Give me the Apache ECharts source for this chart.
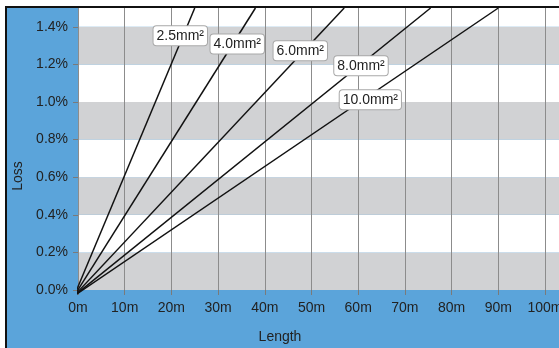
<!DOCTYPE html>
<html>
<head>
<meta charset="utf-8">
<script src="https://cdn.jsdelivr.net/npm/echarts@6/dist/echarts.min.js"></script>
<style>html,body{margin:0;padding:0;background:#fff}#c{width:559px;height:348px}</style>
</head>
<body>
<div id="c"></div>
<script>
// Cable cross-sections (series names)
const cableSizes = ['2.5mm²', '4.0mm²', '6.0mm²', '8.0mm²', '10.0mm²'];
// Each loss line starts near the origin...
const startLength = [-0.8, -0.8, -0.8, -0.8, -0.8];
const startLoss = [-0.03, -0.03, -0.03, -0.03, -0.03];
// ...and reaches 1.5 % loss at these lengths (m)
const endLength = [25, 38, 57, 75.5, 90];
const endLoss = [1.5, 1.5, 1.5, 1.5, 1.5];
// Tick labels
const xTicks = ['0m','10m','20m','30m','40m','50m','60m','70m','80m','90m','100m'];
const yTicks = ['0.0%','0.2%','0.4%','0.6%','0.8%','1.0%','1.2%','1.4%'];

// label placement (layout only)
const labelPos = [[21.9, 1.352], [34.1, 1.309], [47.6, 1.272], [60.6, 1.193], [62.6, 1.012]];

const font = '"Liberation Sans", Arial, sans-serif';
const txt = '#222';
const chart = echarts.init(document.getElementById('c'), null, {renderer: 'canvas'});

const series = cableSizes.map((name, i) => ({
  name: name,
  type: 'line',
  symbol: 'none',
  silent: true,
  clip: false,
  lineStyle: {color: '#111', width: 1.5},
  data: [[startLength[i], startLoss[i]], [endLength[i], endLoss[i]]],
  markPoint: {
    symbol: 'rect', symbolSize: 0, silent: true, z: 20,
    data: [{coord: labelPos[i], value: name}],
    label: {
      show: true, position: 'inside', formatter: name,
      color: txt, fontFamily: font, fontSize: 14,
      backgroundColor: '#fff', borderColor: '#a8a8a8', borderWidth: 1,
      borderRadius: 3, padding: [3, 3, 2, 3]
    }
  }
}));

chart.setOption({
  backgroundColor: '#5ba4da',
  animation: false,
  grid: {left: 78, top: 8, right: 0, height: 282, containLabel: false, outerBoundsMode: 'none'},
  xAxis: {
    type: 'value', min: 0, max: 103, interval: 10,
    axisLine: {show: false},
    axisTick: {show: true, length: 5, lineStyle: {color: '#7a7a7a'}},
    splitLine: {show: true, lineStyle: {color: '#8c8c8c', width: 1}},
    axisLabel: {
      color: txt, fontFamily: font, fontSize: 14, margin: 11, showMaxLabel: false, hideOverlap: false,
      formatter: v => { const k = Math.round(v / 10); return (Math.abs(v - k * 10) < 1e-6 && xTicks[k] !== undefined) ? xTicks[k] : ''; }
    }
  },
  yAxis: {
    type: 'value', min: 0, max: 1.5, interval: 0.2,
    axisLine: {show: false},
    axisTick: {show: true, length: 5, lineStyle: {color: '#7a7a7a'}},
    splitLine: {show: false},
    splitArea: {show: true, areaStyle: {color: ['#d1d2d4', '#ffffff']}},
    axisLabel: {
      color: txt, fontFamily: font, fontSize: 14, margin: 10, showMaxLabel: false,
      formatter: v => { const k = Math.round(v / 0.2); return yTicks[k] !== undefined ? yTicks[k] : ''; }
    }
  },
  graphic: [
    {type: 'rect', z: 100, shape: {x: 0, y: 0, width: 6, height: 348}, style: {fill: '#fff'}},
    {type: 'rect', z: 100, shape: {x: 0, y: 0, width: 559, height: 6}, style: {fill: '#fff'}},
    {type: 'line', z: 101, shape: {x1: 6, y1: 7, x2: 559, y2: 7}, style: {stroke: '#111', lineWidth: 2}},
    {type: 'line', z: 101, shape: {x1: 6, y1: 6, x2: 6, y2: 348}, style: {stroke: '#111', lineWidth: 2}},
    {type: 'text', z: 50, x: 280, y: 337, style: {text: 'Length', fill: txt, font: '14px ' + font, textAlign: 'center', textVerticalAlign: 'middle'}},
    {type: 'text', z: 50, x: 18, y: 176, rotation: Math.PI / 2, style: {text: 'Loss', fill: txt, font: '14px ' + font, textAlign: 'center', textVerticalAlign: 'middle'}}
  ],
  series: series
});
</script>
</body>
</html>
